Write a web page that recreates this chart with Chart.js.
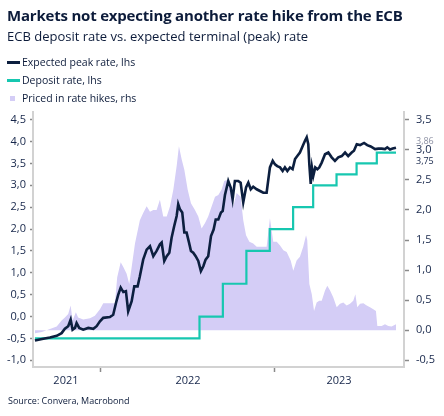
<!DOCTYPE html>
<html lang="en">
<head>
  <meta charset="UTF-8" />
  <meta name="viewport" content="width=device-width, initial-scale=1" />
  <title>ECB deposit rate vs. expected terminal rate</title>
  <script src="https://cdn.jsdelivr.net/npm/chart.js"></script>
  <style>
    * { box-sizing: border-box; }
    body {
      margin: 0;
      width: 444px;
      height: 416px;
      position: relative;
      overflow: hidden;
      background: #fff;
      color: #0c1b3a;
      font-family: 'Open Sans', sans-serif;
    }
    .chart-wrap { position: absolute; left: 0; top: 0; width: 444px; height: 416px; }
    h1 { position: absolute; left: 7px; top: 5px; margin: 0; font-size: 15px; font-weight: 700; white-space: nowrap; letter-spacing: -0.2px; }
    h2 { position: absolute; left: 7px; top: 27px; margin: 0; font-size: 13px; font-weight: 400; white-space: nowrap; }
    .legend { position: absolute; left: 7px; top: 53px; font-size: 10.5px; }
    .legend div { height: 18px; display: flex; align-items: center; white-space: nowrap; }
    .key-line { width: 13px; height: 3px; margin-right: 2px; }
    .key-box { width: 5px; height: 5px; margin: 0 7px 0 3px; }
    .source { position: absolute; left: 8px; top: 394px; font-size: 9px; white-space: nowrap; }
  </style>
</head>
<body>
  <div class="chart-wrap"><canvas id="ecbChart"></canvas></div>

  <h1>Markets not expecting another rate hike from the ECB</h1>
  <h2>ECB deposit rate vs. expected terminal (peak) rate</h2>
  <div class="legend">
    <div><span class="key-line" style="background:#0c1f3f"></span>Expected peak rate, lhs</div>
    <div><span class="key-line" style="background:#17c7b0"></span>Deposit rate, lhs</div>
    <div><span class="key-box" style="background:#d4cdf6"></span>Priced in rate hikes, rhs</div>
  </div>
  <div class="source">Source: Convera, Macrobond</div>

  <script>
    // dates as decimal years
    const peakDates = [2021.623, 2021.671, 2021.709, 2021.748, 2021.776, 2021.795, 2021.814, 2021.828, 2021.839, 2021.853,
      2021.862, 2021.877, 2021.900, 2021.929, 2021.958, 2021.977, 2021.996, 2022.015, 2022.053, 2022.072,
      2022.088, 2022.101, 2022.115, 2022.130, 2022.145, 2022.158, 2022.178, 2022.193, 2022.212, 2022.225,
      2022.244, 2022.264, 2022.283, 2022.302, 2022.321, 2022.340, 2022.350, 2022.365, 2022.379, 2022.394,
      2022.407, 2022.422, 2022.436, 2022.445, 2022.455, 2022.468, 2022.480, 2022.493, 2022.507, 2022.518,
      2022.531, 2022.545, 2022.560, 2022.575, 2022.589, 2022.602, 2022.617, 2022.633, 2022.648, 2022.660,
      2022.675, 2022.690, 2022.700, 2022.713, 2022.732, 2022.746, 2022.757, 2022.770, 2022.789, 2022.803,
      2022.818, 2022.834, 2022.847, 2022.861, 2022.875, 2022.895, 2022.914, 2022.933, 2022.952, 2022.962,
      2022.971, 2022.987, 2023.000, 2023.013, 2023.029, 2023.044, 2023.057, 2023.071, 2023.086, 2023.101,
      2023.115, 2023.128, 2023.143, 2023.159, 2023.172, 2023.182, 2023.191, 2023.197, 2023.205, 2023.212,
      2023.220, 2023.231, 2023.243, 2023.254, 2023.268, 2023.287, 2023.306, 2023.325, 2023.344, 2023.363,
      2023.383, 2023.402, 2023.420, 2023.440, 2023.453, 2023.469, 2023.488, 2023.511, 2023.529, 2023.549,
      2023.574, 2023.593, 2023.612, 2023.631, 2023.644, 2023.660, 2023.675, 2023.694];
    const peakRate = [-0.55, -0.51, -0.48, -0.44, -0.38, -0.28, -0.22, -0.07, -0.30, -0.26,
      -0.15, -0.26, -0.30, -0.26, -0.28, -0.22, -0.11, -0.03, -0.01, 0.04,
      0.31, 0.50, 0.66, 0.56, 0.58, 0.12, 0.35, 0.69, 0.69, 0.92,
      1.30, 1.53, 1.61, 1.38, 1.50, 1.65, 1.69, 1.27, 1.38, 1.46,
      1.80, 2.07, 2.30, 2.57, 2.45, 2.38, 1.92, 1.92, 1.69, 1.50,
      1.46, 1.38, 1.27, 1.04, 1.15, 1.30, 1.38, 1.84, 1.99, 2.22,
      2.22, 2.38, 2.41, 2.78, 3.10, 2.95, 2.68, 3.10, 3.10, 3.06,
      2.61, 2.95, 3.06, 2.91, 2.97, 2.91, 2.87, 2.83, 2.83, 3.14,
      3.41, 3.56, 3.48, 3.44, 3.41, 3.33, 3.41, 3.33, 3.41, 3.37,
      3.60, 3.67, 3.75, 3.90, 4.02, 4.10, 3.94, 3.48, 3.03, 3.41,
      3.22, 3.41, 3.37, 3.41, 3.52, 3.71, 3.75, 3.64, 3.56, 3.64,
      3.67, 3.75, 3.67, 3.75, 3.79, 3.94, 3.92, 3.97, 3.92, 3.89,
      3.83, 3.84, 3.84, 3.83, 3.87, 3.82, 3.84, 3.86];

    const depositDates = [2021.623, 2022.567, 2022.701, 2022.836, 2022.970, 2023.104, 2023.219, 2023.353, 2023.468, 2023.584, 2023.694];
    const depositRate = [-0.5, 0, 0.75, 1.5, 2, 2.5, 3, 3.25, 3.5, 3.75, 3.75];

    const hikeDates = [2021.623, 2021.663, 2021.709, 2021.748, 2021.776, 2021.795, 2021.814, 2021.828, 2021.839, 2021.858,
      2021.871, 2021.900, 2021.939, 2021.967, 2021.996, 2022.015, 2022.053, 2022.082, 2022.095, 2022.115,
      2022.130, 2022.149, 2022.164, 2022.178, 2022.197, 2022.225, 2022.244, 2022.264, 2022.283, 2022.302,
      2022.321, 2022.340, 2022.359, 2022.379, 2022.398, 2022.417, 2022.436, 2022.449, 2022.465, 2022.480,
      2022.499, 2022.518, 2022.541, 2022.560, 2022.579, 2022.598, 2022.617, 2022.637, 2022.656, 2022.675,
      2022.694, 2022.709, 2022.723, 2022.742, 2022.761, 2022.780, 2022.803, 2022.818, 2022.834, 2022.853,
      2022.875, 2022.895, 2022.914, 2022.933, 2022.952, 2022.971, 2022.990, 2023.010, 2023.029, 2023.048,
      2023.067, 2023.090, 2023.105, 2023.124, 2023.143, 2023.162, 2023.178, 2023.185, 2023.197, 2023.211,
      2023.224, 2023.239, 2023.254, 2023.268, 2023.287, 2023.300, 2023.316, 2023.334, 2023.354, 2023.373,
      2023.392, 2023.411, 2023.430, 2023.449, 2023.461, 2023.472, 2023.488, 2023.507, 2023.526, 2023.545,
      2023.564, 2023.579, 2023.587, 2023.612, 2023.631, 2023.650, 2023.669, 2023.694];
    const hikesPriced = [-0.05, -0.03, 0.02, 0.06, 0.16, 0.21, 0.27, 0.41, 0.16, 0.30,
      0.21, 0.18, 0.20, 0.24, 0.35, 0.45, 0.45, 0.45, 0.88, 1.13,
      1.05, 0.94, 0.77, 1.05, 1.44, 1.83, 1.95, 2.06, 1.97, 2.00,
      2.00, 2.17, 1.89, 1.89, 2.06, 2.34, 2.73, 3.06, 2.84, 2.67,
      2.34, 2.11, 2.00, 1.89, 1.69, 1.78, 1.89, 2.06, 2.22, 2.25,
      2.34, 2.48, 2.50, 2.34, 2.06, 2.28, 2.22, 1.83, 1.58, 1.47,
      1.44, 1.39, 1.39, 1.39, 1.39, 1.86, 1.47, 1.47, 1.41, 1.33,
      1.30, 1.16, 0.99, 1.16, 1.22, 1.39, 1.58, 1.50, 0.77, 0.60,
      0.32, 0.46, 0.49, 0.49, 0.66, 0.74, 0.66, 0.55, 0.38, 0.44,
      0.46, 0.41, 0.44, 0.49, 0.60, 0.38, 0.44, 0.45, 0.41, 0.38,
      0.35, 0.32, 0.07, 0.07, 0.10, 0.07, 0.06, 0.10];

    const yearLabels = ['2021', '2022', '2023'];
    const yearLabelPos = [2021.801, 2022.501, 2023.367];
    const yearBreaks = [2022, 2023];
    const leftTicks = [-1, -0.5, 0, 0.5, 1, 1.5, 2, 2.5, 3, 3.5, 4, 4.5];
    const rightTicks = [-0.5, 0, 0.5, 1, 1.5, 2, 2.5, 3, 3.5];

    const NAVY = '#0c1f3f';
    const TEAL = '#17c7b0';
    const LAVENDER = '#d4cdf6';
    const TEXT = '#16264a';
    const AXIS = '#d2d2d2';
    const TICK = '#8a8a8a';

    Chart.defaults.font.family = "'Open Sans', sans-serif";

    const toPoints = (xs, ys) => xs.map((x, i) => ({ x: x, y: ys[i] }));
    const fmt1 = v => v.toFixed(1).replace('.', ',');
    const fmt2 = v => v.toFixed(2).replace('.', ',');

    // last values printed next to the right axis
    const lastValueLabels = {
      id: 'lastValueLabels',
      afterDraw(chart) {
        const ctx = chart.ctx;
        const yL = chart.scales.yL;
        const x = chart.chartArea.right + 12;
        const peakLast = peakRate[peakRate.length - 1];
        const depLast = depositRate[depositRate.length - 1];
        ctx.save();
        ctx.font = "9px 'Open Sans', sans-serif";
        ctx.textBaseline = 'middle';
        ctx.textAlign = 'left';
        ctx.fillStyle = '#8c90a3';
        ctx.fillText(fmt2(peakLast), x, yL.getPixelForValue(peakLast) - 6);
        ctx.fillStyle = TEXT;
        ctx.fillText(fmt2(depLast), x, yL.getPixelForValue(depLast) + 9);
        ctx.restore();
      }
    };

    new Chart(document.getElementById('ecbChart'), {
      type: 'line',
      data: {
        datasets: [
          {
            label: 'Expected peak rate, lhs',
            data: toPoints(peakDates, peakRate),
            yAxisID: 'yL',
            borderColor: NAVY,
            borderWidth: 2.6,
            pointRadius: 0,
            fill: false
          },
          {
            label: 'Deposit rate, lhs',
            data: toPoints(depositDates, depositRate),
            yAxisID: 'yL',
            borderColor: TEAL,
            borderWidth: 2.2,
            stepped: 'before',
            pointRadius: 0,
            fill: false
          },
          {
            label: 'Priced in rate hikes, rhs',
            data: toPoints(hikeDates, hikesPriced),
            yAxisID: 'yR',
            borderWidth: 0,
            borderColor: LAVENDER,
            backgroundColor: LAVENDER,
            pointRadius: 0,
            fill: 'origin'
          }
        ]
      },
      options: {
        responsive: true,
        maintainAspectRatio: false,
        animation: false,
        layout: { padding: { top: 112, bottom: 25, left: 0, right: 0 } },
        plugins: { legend: { display: false }, tooltip: { enabled: false } },
        scales: {
          x: {
            type: 'linear',
            min: 2021.612,
            max: 2023.74,
            afterBuildTicks: s => {
              s.ticks = [yearLabelPos[0], yearBreaks[0], yearLabelPos[1], yearBreaks[1], yearLabelPos[2]].map(v => ({ value: v }));
            },
            afterFit: s => { s.height = 24; },
            ticks: {
              autoSkip: false,
              maxRotation: 0,
              padding: 2,
              color: TEXT,
              font: { size: 11 },
              callback: v => {
                const i = yearLabelPos.indexOf(v);
                return i >= 0 ? yearLabels[i] : '';
              }
            },
            grid: {
              drawOnChartArea: false,
              tickLength: 5,
              tickWidth: 1.5,
              tickColor: c => (c.tick && yearBreaks.includes(c.tick.value)) ? TICK : 'rgba(0,0,0,0)'
            },
            border: { color: AXIS, width: 2 }
          },
          yL: {
            position: 'left',
            min: -1.154,
            max: 4.677,
            afterBuildTicks: s => { s.ticks = leftTicks.map(v => ({ value: v })); },
            afterFit: s => { s.width = 33; },
            ticks: { padding: 4, color: TEXT, font: { size: 11 }, callback: v => fmt1(v) },
            grid: { drawOnChartArea: false, tickLength: 3, tickWidth: 1.5, tickColor: TICK },
            border: { color: AXIS, width: 2 }
          },
          yR: {
            position: 'right',
            min: -0.612,
            max: 3.629,
            afterBuildTicks: s => { s.ticks = rightTicks.map(v => ({ value: v })); },
            afterFit: s => { s.width = 40; },
            ticks: { padding: 7, color: TEXT, font: { size: 11 }, callback: v => fmt1(v) },
            grid: { drawOnChartArea: false, tickLength: 5, tickWidth: 1.5, tickColor: TICK },
            border: { color: AXIS, width: 2 }
          }
        }
      },
      plugins: [lastValueLabels]
    });
  </script>
</body>
</html>
